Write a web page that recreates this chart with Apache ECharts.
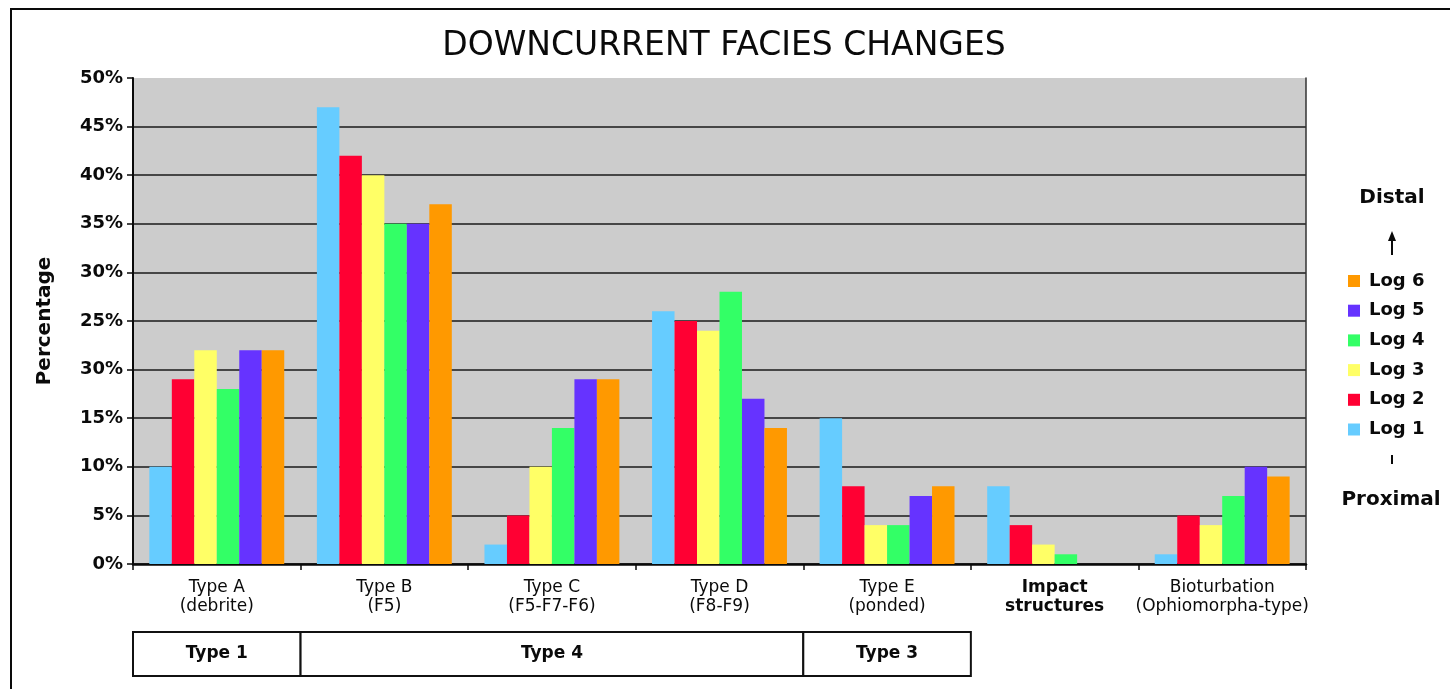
<!DOCTYPE html>
<html>
<head>
<meta charset="utf-8">
<title>Downcurrent facies changes</title>
<script src="https://cdn.jsdelivr.net/npm/echarts@6/dist/echarts.min.js"></script>
<style>
  html, body { margin: 0; padding: 0; background: #ffffff; }
  #chart { width: 1450px; height: 689px; }
</style>
</head>
<body>
<div id="chart"></div>
<script>
// Facies categories along the x axis
var categories = [
  'Type A\n(debrite)',
  'Type B\n(F5)',
  'Type C\n(F5-F7-F6)',
  'Type D\n(F8-F9)',
  'Type E\n(ponded)',
  'Impact\nstructures',
  'Bioturbation\n(Ophiomorpha-type)'
];
// categories whose label is set in bold
var boldCategoryIndex = [5];

// Percentages per log (Log 1 = proximal ... Log 6 = distal)
var log1 = [10, 47, 2, 26, 15, 8, 1];
var log2 = [19, 42, 5, 25, 8, 4, 5];
var log3 = [22, 40, 10, 24, 4, 2, 4];
var log4 = [18, 35, 14, 28, 4, 1, 7];
var log5 = [22, 35, 19, 17, 7, 0, 10];
var log6 = [22, 37, 19, 14, 8, 0, 9];

var seriesNames = ['Log 1', 'Log 2', 'Log 3', 'Log 4', 'Log 5', 'Log 6'];
var seriesColors = ['#66CCFF', '#FF0033', '#FFFF66', '#33FF66', '#6633FF', '#FF9900'];

// y tick labels, from 0 upwards in steps of 5
var yTickLabels = ['0%', '5%', '10%', '15%', '30%', '25%', '30%', '35%', '40%', '45%', '50%'];

// Grouping row under the axis: first category, last category, label
var tableFrom = [0, 1, 4];
var tableTo = [0, 3, 4];
var tableLabels = ['Type 1', 'Type 4', 'Type 3'];

var FONT = '"DejaVu Sans", sans-serif';
var INK = '#0a0a0a';

var chart = echarts.init(document.getElementById('chart'), null, { renderer: 'canvas' });

var logData = [log1, log2, log3, log4, log5, log6];
var barSeries = logData.map(function (vals, i) {
  return {
    name: seriesNames[i],
    type: 'bar',
    xAxisIndex: 0,
    yAxisIndex: 0,
    data: vals,
    barGap: '0%',
    barCategoryGap: '19.5%',
    itemStyle: { color: seriesColors[i] },
    emphasis: { disabled: true },
    animation: false
  };
});

var tableSeries = {
  type: 'custom',
  xAxisIndex: 1,
  yAxisIndex: 2,
  silent: true,
  animation: false,
  data: tableFrom.map(function (f, i) { return [f, tableTo[i]]; }),
  renderItem: function (params, api) {
    var i = params.dataIndex;
    var band = api.size([1, 0])[0];
    var pTop = api.coord([tableFrom[i], 1]);
    var pBot = api.coord([tableTo[i], 0]);
    var x0 = pTop[0] - band / 2;
    var x1 = pBot[0] + band / 2;
    return {
      type: 'group',
      children: [
        {
          type: 'rect',
          shape: { x: x0, y: pTop[1], width: x1 - x0, height: pBot[1] - pTop[1] },
          style: { fill: '#ffffff', stroke: '#111111', lineWidth: 2 }
        },
        {
          type: 'text',
          style: {
            text: tableLabels[i],
            x: (x0 + x1) / 2,
            y: (pTop[1] + pBot[1]) / 2,
            align: 'center',
            verticalAlign: 'middle',
            font: 'bold 17px ' + FONT,
            fill: INK
          }
        }
      ]
    };
  }
};

var option = {
  backgroundColor: '#ffffff',
  animation: false,
  title: {
    text: 'DOWNCURRENT FACIES CHANGES',
    left: 719,
    top: 25,
    textAlign: 'center',
    textStyle: { fontFamily: FONT, fontSize: 33, fontWeight: 'normal', color: INK }
  },
  legend: {
    orient: 'vertical',
    left: 1343,
    top: 266,
    itemWidth: 12,
    itemHeight: 12,
    itemGap: 9.7,
    icon: 'rect',
    selectedMode: false,
    data: seriesNames.slice().reverse(),
    textStyle: { fontFamily: FONT, fontSize: 18, fontWeight: 'bold', color: INK, lineHeight: 20, padding: [0, 0, 0, 4] }
  },
  grid: [
    {
      left: 133, right: 144, top: 78, bottom: 125,
      show: true, backgroundColor: '#CCCCCC', borderWidth: 0
    },
    {
      left: 133, right: 144, top: 632, height: 44
    }
  ],
  xAxis: [
    {
      type: 'category',
      gridIndex: 0,
      data: categories,
      axisLine: { lineStyle: { color: INK, width: 2.5 } },
      axisTick: { show: true, length: 6, lineStyle: { color: INK, width: 1.5 } },
      axisLabel: {
        margin: 14,
        interval: 0,
        fontFamily: FONT,
        fontSize: 17,
        lineHeight: 19,
        color: INK,
        formatter: function (value, index) {
          var style = boldCategoryIndex.indexOf(index) >= 0 ? 'b' : 'n';
          return value.split('\n').map(function (line) {
            return '{' + style + '|' + line + '}';
          }).join('\n');
        },
        rich: {
          n: { fontFamily: FONT, fontSize: 17, lineHeight: 19, color: INK },
          b: { fontFamily: FONT, fontSize: 17, fontWeight: 'bold', lineHeight: 19, color: INK }
        }
      }
    },
    {
      type: 'category',
      gridIndex: 1,
      data: categories,
      show: false
    }
  ],
  yAxis: [
    {
      type: 'value',
      gridIndex: 0,
      min: 0,
      max: 50,
      interval: 5,
      name: 'Percentage',
      nameLocation: 'middle',
      nameRotate: 90,
      nameGap: 78,
      nameTextStyle: { fontFamily: FONT, fontSize: 20, fontWeight: 'bold', color: INK },
      axisLine: { show: true, lineStyle: { color: INK, width: 2 } },
      axisTick: { show: true, length: 6, lineStyle: { color: INK, width: 1.5 } },
      axisLabel: {
        margin: 10,
        fontFamily: FONT,
        fontSize: 18,
        fontWeight: 'bold',
        color: INK,
        formatter: function (v) { return yTickLabels[Math.round(v / 5)]; }
      },
      splitLine: {
        show: true,
        lineStyle: {
          width: 1.5,
          color: ['#1a1a1a', '#1a1a1a', '#1a1a1a', '#1a1a1a', '#1a1a1a', '#1a1a1a',
                  '#1a1a1a', '#1a1a1a', '#1a1a1a', '#1a1a1a', 'rgba(0,0,0,0)']
        }
      }
    },
    {
      type: 'value',
      gridIndex: 0,
      position: 'right',
      min: 0,
      max: 50,
      interval: 5,
      axisLine: { show: true, lineStyle: { color: '#333333', width: 1.5 } },
      axisTick: { show: false },
      axisLabel: { show: false },
      splitLine: { show: false }
    },
    {
      type: 'value',
      gridIndex: 1,
      min: 0,
      max: 1,
      show: false
    }
  ],
  graphic: [
    // frame lines along the top and left of the figure
    { type: 'line', shape: { x1: 10, y1: 9, x2: 1450, y2: 9 }, style: { stroke: INK, lineWidth: 2 } },
    { type: 'line', shape: { x1: 11, y1: 8, x2: 11, y2: 689 }, style: { stroke: INK, lineWidth: 2 } },
    // distal / proximal annotation beside the legend
    {
      type: 'text', x: 1392, y: 198,
      style: { text: 'Distal', align: 'center', verticalAlign: 'middle', font: 'bold 20px ' + FONT, fill: INK }
    },
    { type: 'line', shape: { x1: 1392, y1: 239, x2: 1392, y2: 255 }, style: { stroke: INK, lineWidth: 2 } },
    { type: 'polygon', shape: { points: [[1388, 241], [1396, 241], [1392, 231]] }, style: { fill: INK } },
    { type: 'line', shape: { x1: 1392, y1: 455, x2: 1392, y2: 464 }, style: { stroke: INK, lineWidth: 2 } },
    {
      type: 'text', x: 1391, y: 500,
      style: { text: 'Proximal', align: 'center', verticalAlign: 'middle', font: 'bold 20px ' + FONT, fill: INK }
    }
  ],
  series: barSeries.concat([tableSeries])
};

chart.setOption(option);
</script>
</body>
</html>
